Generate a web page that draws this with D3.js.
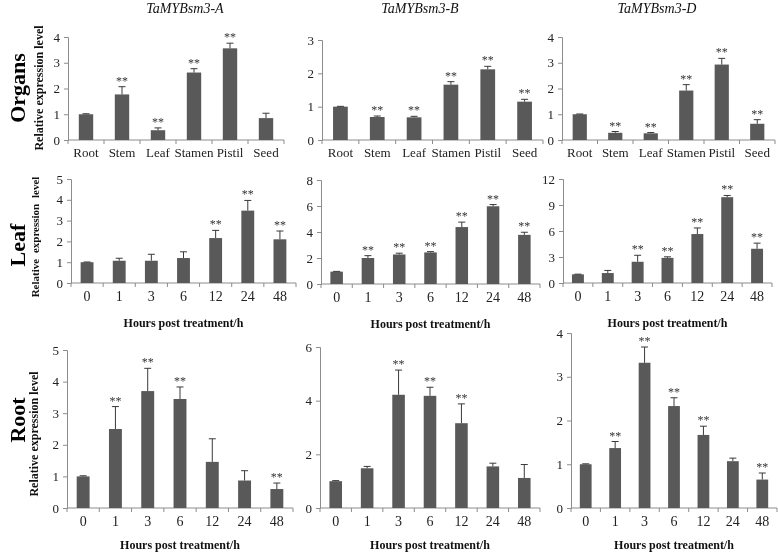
<!DOCTYPE html>
<html><head><meta charset="utf-8">
<script src="https://cdn.jsdelivr.net/npm/d3@7"></script>
<style>body{margin:0;background:#fff}svg{display:block;filter:grayscale(100%)}</style>
</head><body>
<script>
// ---------- data ----------
const organs = ["Root","Stem","Leaf","Stamen","Pistil","Seed"];
const hours = ["0","1","3","6","12","24","48"];
const genes = ["TaMYBsm3-A","TaMYBsm3-B","TaMYBsm3-D"];
const rowNames = ["Organs","Leaf","Root"];

const organA = [1.0,1.77,0.38,2.62,3.56,0.85];
const organAErr = [0.02,0.30,0.09,0.15,0.20,0.19];
const organASig = [0,1,1,1,1,0];
const organB = [1.0,0.69,0.68,1.66,2.12,1.15];
const organBErr = [0.01,0.03,0.03,0.09,0.09,0.07];
const organBSig = [0,1,1,1,1,1];
const organD = [1.0,0.28,0.26,1.92,2.93,0.63];
const organDErr = [0.01,0.05,0.03,0.23,0.24,0.16];
const organDSig = [0,1,1,1,1,1];

const leafA = [1.0,1.07,1.07,1.2,2.16,3.48,2.1];
const leafAErr = [0.01,0.12,0.31,0.30,0.37,0.49,0.40];
const leafASig = [0,0,0,0,1,1,1];
const leafB = [0.95,2.0,2.27,2.43,4.38,5.98,3.78];
const leafBErr = [0.02,0.18,0.10,0.06,0.38,0.13,0.20];
const leafBSig = [0,1,1,1,1,1,1];
const leafD = [1.0,1.15,2.45,2.9,5.65,9.9,3.95];
const leafDErr = [0.02,0.30,0.75,0.12,0.70,0.20,0.65];
const leafDSig = [0,0,1,1,1,1,1];

const rootA = [1.0,2.5,3.7,3.45,1.46,0.87,0.6];
const rootAErr = [0.02,0.71,0.72,0.38,0.73,0.31,0.19];
const rootASig = [0,1,1,1,0,0,1];
const rootB = [1.0,1.48,4.22,4.18,3.16,1.55,1.12];
const rootBErr = [0.02,0.07,0.92,0.32,0.72,0.12,0.50];
const rootBSig = [0,0,1,1,1,0,0];
const rootD = [1.0,1.37,3.32,2.33,1.67,1.07,0.65];
const rootDErr = [0.01,0.15,0.36,0.19,0.20,0.07,0.15];
const rootDSig = [0,1,1,1,1,0,1];

const organTicks = [[0,1,2,3,4],[0,1,2,3],[0,1,2,3,4]];
const leafTicks = [[0,1,2,3,4,5],[0,2,4,6,8],[0,3,6,9,12]];
const rootTicks = [[0,1,2,3,4,5],[0,2,4,6],[0,1,2,3,4]];

// ---------- layout ----------
const W = 778, H = 555;
const panels = [
  {cats:organs, v:organA, e:organAErr, s:organASig, t:organTicks[0], x:[68,284], y:[140,37], row:0, col:0},
  {cats:organs, v:organB, e:organBErr, s:organBSig, t:organTicks[1], x:[322,543], y:[140,40], row:0, col:1},
  {cats:organs, v:organD, e:organDErr, s:organDSig, t:organTicks[2], x:[562,775], y:[140,37], row:0, col:2},
  {cats:hours, v:leafA, e:leafAErr, s:leafASig, t:leafTicks[0], x:[71,296], y:[283,179], row:1, col:0},
  {cats:hours, v:leafB, e:leafBErr, s:leafBSig, t:leafTicks[1], x:[321,540], y:[284,180], row:1, col:1},
  {cats:hours, v:leafD, e:leafDErr, s:leafDSig, t:leafTicks[2], x:[563,772], y:[283,179], row:1, col:2},
  {cats:hours, v:rootA, e:rootAErr, s:rootASig, t:rootTicks[0], x:[67,293], y:[508,350], row:2, col:0},
  {cats:hours, v:rootB, e:rootBErr, s:rootBSig, t:rootTicks[1], x:[320,540], y:[508,347], row:2, col:1},
  {cats:hours, v:rootD, e:rootDErr, s:rootDSig, t:rootTicks[2], x:[571,777], y:[508,333], row:2, col:2},
];
const titleX = [185, 420, 657];
const rowLabelY = [88, 245, 420];
const yTitle = [{x:43,y:88,fs:12},{x:39,y:237,fs:11},{x:38,y:434,fs:12}];

const serif = "'Liberation Serif','Times New Roman',serif";
const barColor = "#595959", axisColor = "#8c8c8c", errColor = "#3a3a3a";

const svg = d3.select("body").append("svg").attr("width",W).attr("height",H)
  .style("font-family", serif);

genes.forEach((g,i)=>{
  svg.append("text").attr("x",titleX[i]).attr("y",13).attr("text-anchor","middle")
    .style("font-style","italic").style("font-size","14px").attr("fill","#111").text(g);
});

panels.forEach(p=>{
  const x = d3.scaleBand().domain(p.cats).range(p.x).padding(0);
  const y = d3.scaleLinear().domain([0, d3.max(p.t)]).range(p.y);
  const g = svg.append("g");
  const bw = x.bandwidth()*0.4;

  const ya = g.append("g").attr("transform",`translate(${p.x[0]},0)`)
    .call(d3.axisLeft(y).tickValues(p.t).tickSize(4).tickPadding(4).tickFormat(d3.format("d")));
  ya.select(".domain").attr("stroke",axisColor);
  ya.selectAll(".tick line").attr("stroke",axisColor);
  ya.selectAll("text").style("font-size","13px").style("font-family",serif).attr("fill","#222");

  const xa = g.append("g").attr("transform",`translate(0,${p.y[0]})`)
    .call(d3.axisBottom(x).tickSize(0).tickPadding(8));
  xa.select(".domain").attr("stroke",axisColor).attr("d",`M${p.x[0]},0H${p.x[1]}`);
  xa.selectAll("text").style("font-size", p.row===0?"13px":"14px").style("font-family",serif).attr("fill","#222");
  const bounds = p.cats.map(c=>x(c)).concat([p.x[1]]);
  g.selectAll(".xt").data(bounds).join("line").attr("class","xt")
    .attr("x1",d=>d).attr("x2",d=>d).attr("y1",p.y[0]).attr("y2",p.y[0]+4)
    .attr("stroke",axisColor);

  const data = p.cats.map((c,i)=>({c, v:p.v[i], e:p.e[i], s:p.s[i]}));
  g.selectAll(".bar").data(data).join("rect")
    .attr("x",d=>x(d.c)+x.bandwidth()/2-bw/2).attr("width",bw)
    .attr("y",d=>y(d.v)).attr("height",d=>y(0)-y(d.v)).attr("fill",barColor);
  g.selectAll(".ev").data(data).join("line")
    .attr("x1",d=>x(d.c)+x.bandwidth()/2).attr("x2",d=>x(d.c)+x.bandwidth()/2)
    .attr("y1",d=>y(d.v)).attr("y2",d=>y(d.v+d.e)).attr("stroke",errColor).attr("stroke-width",1);
  g.selectAll(".ec").data(data).join("line")
    .attr("x1",d=>x(d.c)+x.bandwidth()/2-3.5).attr("x2",d=>x(d.c)+x.bandwidth()/2+3.5)
    .attr("y1",d=>y(d.v+d.e)).attr("y2",d=>y(d.v+d.e)).attr("stroke",errColor).attr("stroke-width",1);
  g.selectAll(".st").data(data.filter(d=>d.s)).join("text")
    .attr("x",d=>x(d.c)+x.bandwidth()/2).attr("y",d=>y(d.v+d.e)-2)
    .attr("text-anchor","middle").style("font-size","12px").attr("fill","#333")
    .text("**");

  if(p.row>0){
    svg.append("text").attr("x",(p.x[0]+p.x[1])/2).attr("y",p.y[0]+(p.row===1?44:41))
      .attr("text-anchor","middle").style("font-weight","bold").style("font-size","12px")
      .attr("fill","#111").text("Hours post treatment/h");
  }
  if(p.col===0){
    const yt = yTitle[p.row];
    svg.append("text").attr("transform",`translate(${yt.x},${yt.y}) rotate(-90)`)
      .attr("text-anchor","middle").style("font-weight","bold").style("font-size",yt.fs+"px")
      .style("word-spacing", p.row===1?"3px":"0px")
      .attr("fill","#111").text("Relative expression level");
    svg.append("text").attr("transform",`translate(${17},${rowLabelY[p.row]}) rotate(-90)`)
      .attr("dy","0.35em")
      .attr("text-anchor","middle").style("font-weight","bold").style("font-size","22px")
      .attr("fill","#000").text(rowNames[p.row]);
  }
});
</script>
</body></html>
